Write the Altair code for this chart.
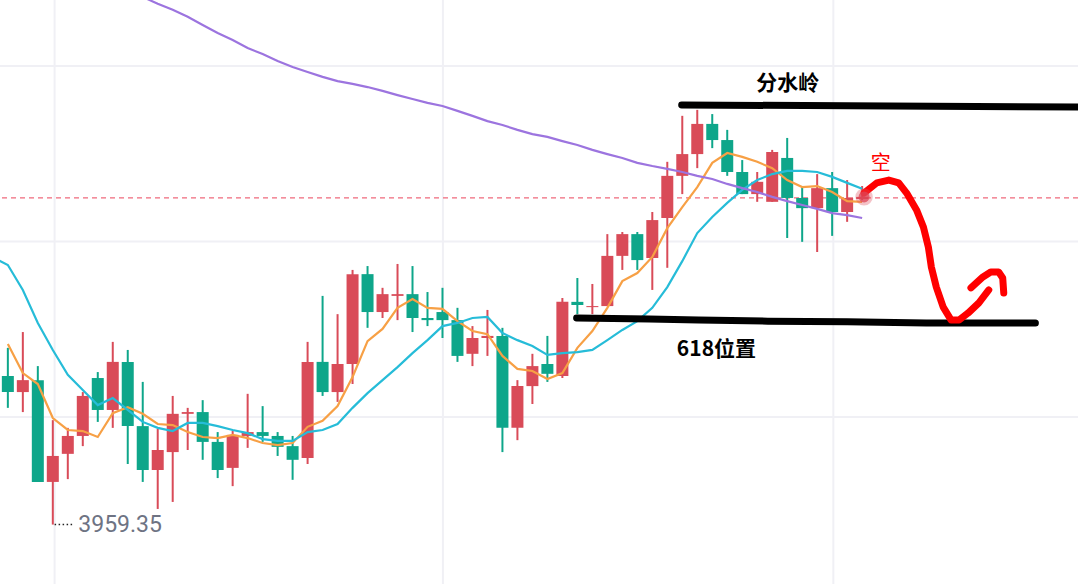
import altair as alt
import pandas as pd

# ---------------- data ----------------
open_ = [4001.7, 3997.1, 4000.5, 3971.5, 3979.5, 3984.6, 4001.1, 3992.0, 4005.7, 3987.4,
         3974.9, 3980.0, 3990.9, 3991.4, 3982.9, 3975.5, 3984.6, 3985.7, 3984.6, 3981.7,
         3978.3, 4005.7, 3997.1, 4005.1, 4030.7, 4019.9, 4024.5, 4025.0, 4018.2, 4019.9,
         4017.6, 4008.0, 4012.5, 4013.1, 3986.9, 3998.8, 4005.1, 4001.7, 4022.8, 4021.3,
         4021.6, 4035.9, 4042.1, 4035.3, 4046.7, 4058.7, 4064.9, 4073.5, 4068.9, 4059.8,
         4053.5, 4051.3, 4063.8, 4052.4, 4049.5, 4055.2, 4048.4, 4052.1]
high = [4009.7, 4014.2, 4004.5, 3989.1, 3986.9, 3997.1, 4002.8, 4011.4, 4009.1, 4000.0,
        3986.6, 3996.0, 3992.6, 3994.8, 3985.7, 3986.0, 3996.6, 3993.1, 3985.7, 3984.6,
        4011.4, 4024.5, 4019.3, 4031.9, 4033.0, 4026.8, 4033.6, 4033.0, 4025.6, 4026.8,
        4021.1, 4015.9, 4020.5, 4015.4, 4000.5, 4008.0, 4013.1, 4023.9, 4029.6, 4027.9,
        4042.1, 4042.7, 4042.7, 4048.4, 4062.7, 4075.8, 4077.5, 4076.3, 4071.8, 4063.2,
        4059.8, 4066.1, 4069.5, 4055.8, 4059.2, 4059.8, 4057.5, 4055.8]
low = [3992.6, 3991.4, 3971.5, 3959.35, 3972.3, 3981.7, 3988.6, 3986.9, 3976.6, 3971.5,
       3963.8, 3965.8, 3980.6, 3977.8, 3972.6, 3970.3, 3981.2, 3982.9, 3978.9, 3972.1,
       3976.6, 3996.0, 3994.3, 3999.4, 4015.4, 4018.2, 4017.6, 4014.2, 4015.9, 4012.5,
       4005.7, 4004.5, 4007.4, 3980.0, 3983.4, 3993.7, 4000.0, 4001.1, 4019.3, 4019.3,
       4021.6, 4031.9, 4031.9, 4026.2, 4032.5, 4053.5, 4060.9, 4066.6, 4058.7, 4053.5,
       4051.3, 4051.3, 4041.0, 4039.9, 4037.0, 4041.6, 4045.6, 4051.8]
close = [3997.1, 4000.5, 3971.5, 3978.9, 3984.6, 3996.0, 3992.0, 4005.7, 3987.4, 3974.9,
         3980.6, 3990.9, 3991.4, 3982.9, 3974.9, 3984.9, 3985.7, 3984.6, 3981.5, 3977.8,
         4005.7, 3997.1, 4005.1, 4030.7, 4019.9, 4025.0, 4025.0, 4018.2, 4017.6, 4017.6,
         4007.4, 4012.5, 4013.1, 3986.9, 3998.8, 4004.5, 4002.3, 4022.8, 4021.9, 4021.6,
         4035.9, 4042.1, 4034.7, 4046.1, 4058.7, 4064.9, 4073.5, 4068.9, 4059.8, 4053.5,
         4057.0, 4065.5, 4052.4, 4049.5, 4055.2, 4048.4, 4052.4, 4052.7]

ma_fast = [4010.8, 4002.5, 3999.4, 3989.7, 3986.3, 3986.0, 3984.3, 3991.1, 3992.8, 3990.9,
           3988.0, 3987.7, 3985.7, 3984.3, 3984.0, 3984.9, 3984.0, 3982.6, 3982.0, 3982.6,
           3987.2, 3988.9, 3993.1, 4001.4, 4011.6, 4015.1, 4021.1, 4023.6, 4021.1, 4020.8,
           4017.3, 4014.5, 4013.6, 4007.4, 4003.7, 4003.1, 4000.8, 4002.5, 4009.7, 4014.5,
           4021.1, 4028.7, 4031.0, 4035.6, 4043.8, 4049.8, 4055.5, 4062.4, 4065.2, 4064.1,
           4062.7, 4060.9, 4057.5, 4055.5, 4055.8, 4054.1, 4051.5, 4051.3]
ma_mid_start = -1
ma_mid = [4035.5, 4033.3, 4026.2, 4016.8, 4009.1, 4002.0, 3997.7, 3993.4, 3995.4, 3992.0, 3988.6,
          3986.9, 3986.0, 3988.3, 3988.3, 3987.4, 3986.3, 3985.4, 3983.7, 3983.2, 3983.2,
          3985.7, 3986.3, 3988.0, 3992.6, 3996.8, 4000.5, 4004.2, 4008.2, 4011.9, 4015.9,
          4016.8, 4018.2, 4018.5, 4013.9, 4011.9, 4010.2, 4007.7, 4008.2, 4008.5, 4009.1,
          4011.9, 4014.8, 4017.3, 4021.1, 4027.0, 4034.4, 4042.4, 4047.0, 4051.0, 4054.7,
          4057.5, 4059.2, 4060.1, 4060.1, 4059.8, 4058.4, 4056.7, 4055.0]
ma_slow_start = 8
ma_slow = [4111.6, 4109.7, 4107.7, 4106.0, 4104.0, 4101.7, 4099.4, 4097.4, 4095.1, 4093.4,
           4091.4, 4089.7, 4088.3, 4086.9, 4085.7, 4084.9, 4084.0, 4082.9, 4081.7, 4080.6,
           4079.5, 4078.6, 4077.2, 4075.8, 4074.3, 4073.2, 4071.8, 4070.6, 4069.8, 4068.6,
           4067.5, 4066.1, 4064.9, 4063.8, 4062.4, 4061.5, 4060.7, 4059.8, 4058.7, 4057.8,
           4056.4, 4055.2, 4054.1, 4052.7, 4051.5, 4050.4, 4049.3, 4048.1, 4047.5, 4046.7]

last_price = 4052.4
low_label = "3959.35"
low_value = 3959.35

grid_x = [3.12, 29.03, 55.08]
grid_y = [3990, 4040, 4090]

# hand-drawn annotations (bar index, price)
black_line_a_x = [44.96, 71.54]
black_line_a_y = [4078.9, 4078.3]
black_line_b_x = [37.95, 42.78, 46.09, 50.71, 56.0, 61.29, 68.56]
black_line_b_y = [4018.2, 4017.9, 4017.6, 4017.3, 4017.1, 4016.8, 4016.8]
red_curve_x = [57.13, 57.98, 58.78, 59.44, 59.97, 60.63, 61.09, 61.42, 61.62, 61.95,
               62.41, 62.94, 63.47, 64.07, 64.79, 65.45]
red_curve_y = [4053.8, 4056.7, 4057.5, 4056.7, 4053.8, 4049.0, 4044.1, 4038.4, 4032.7, 4027.0,
               4021.3, 4017.6, 4017.6, 4019.6, 4022.5, 4026.2]
red_hook_x = [64.26, 65.06, 65.58, 66.11, 66.38, 66.45]
red_hook_y = [4026.8, 4029.9, 4031.3, 4031.3, 4029.6, 4025.3]

labels_text = ["分水岭", "618位置"]
labels_x = [52.04, 47.28]
labels_y = [4084.9, 4009.1]
short_text = "空"
short_x, short_y = 58.25, 4062.1
dot_x, dot_y = 57.13, 4052.7
leader_x = [3.12, 4.44]
label_x = 4.70

# ---------------- frames ----------------
n = len(open_)
candles = pd.DataFrame({
    "idx": list(range(n)), "open": open_, "high": high, "low": low, "close": close,
})
candles["dir"] = ["up" if c >= o else "down" for o, c in zip(open_, close)]

ma = pd.concat([
    pd.DataFrame({"idx": list(range(len(ma_fast))), "value": ma_fast, "s": "fast"}),
    pd.DataFrame({"idx": [ma_mid_start + i for i in range(len(ma_mid))], "value": ma_mid, "s": "mid"}),
    pd.DataFrame({"idx": [ma_slow_start + i for i in range(len(ma_slow))], "value": ma_slow, "s": "slow"}),
])

black = pd.concat([
    pd.DataFrame({"x": black_line_a_x, "y": black_line_a_y, "k": "a", "o": range(len(black_line_a_x))}),
    pd.DataFrame({"x": black_line_b_x, "y": black_line_b_y, "k": "b", "o": range(len(black_line_b_x))}),
])
red = pd.concat([
    pd.DataFrame({"x": red_curve_x, "y": red_curve_y, "k": "c", "o": range(len(red_curve_x))}),
    pd.DataFrame({"x": red_hook_x, "y": red_hook_y, "k": "h", "o": range(len(red_hook_x))}),
])

xs = alt.Scale(domain=[-0.19, 71.07], nice=False, zero=False)
ys = alt.Scale(domain=[3942.42, 4108.8], nice=False, zero=False)

RED = "#D94B58"
GREEN = "#0EA68A"

gv = alt.Chart(pd.DataFrame({"g": grid_x})).mark_rule(color="#F0F0F5", strokeWidth=2).encode(
    x=alt.X("g:Q", scale=xs, axis=None))
gh = alt.Chart(pd.DataFrame({"g": grid_y})).mark_rule(color="#F0F0F5", strokeWidth=2).encode(
    y=alt.Y("g:Q", scale=ys, axis=None))
dashed = alt.Chart(pd.DataFrame({"p": [last_price]})).mark_rule(
    color="#F06A7C", strokeWidth=1.3, strokeDash=[5, 4]).encode(y=alt.Y("p:Q", scale=ys, axis=None))

cscale = alt.Scale(domain=["up", "down"], range=[RED, GREEN])
wicks = alt.Chart(candles).mark_rule(strokeWidth=2).encode(
    x=alt.X("idx:Q", scale=xs, axis=None),
    y=alt.Y("low:Q", scale=ys, axis=None), y2="high:Q",
    color=alt.Color("dir:N", scale=cscale, legend=None))
bodies = alt.Chart(candles).mark_bar(size=12, minBandSize=2).encode(
    x=alt.X("idx:Q", scale=xs, axis=None),
    y=alt.Y("open:Q", scale=ys, axis=None), y2="close:Q",
    color=alt.Color("dir:N", scale=cscale, legend=None))

lines = alt.Chart(ma).mark_line(strokeWidth=2.2, clip=True).encode(
    x=alt.X("idx:Q", scale=xs, axis=None),
    y=alt.Y("value:Q", scale=ys, axis=None),
    color=alt.Color("s:N", scale=alt.Scale(domain=["fast", "mid", "slow"],
                                           range=["#F7A045", "#26BCD8", "#9C74DF"]), legend=None),
    detail="s:N")

blk = alt.Chart(black).mark_line(strokeWidth=7, strokeCap="round", color="black", clip=True).encode(
    x=alt.X("x:Q", scale=xs, axis=None), y=alt.Y("y:Q", scale=ys, axis=None),
    detail="k:N", order="o:Q")
redl = alt.Chart(red).mark_line(strokeWidth=7, strokeCap="round", strokeJoin="round",
                                color="#FF0000", clip=True).encode(
    x=alt.X("x:Q", scale=xs, axis=None), y=alt.Y("y:Q", scale=ys, axis=None),
    detail="k:N", order="o:Q")

dotdf = pd.DataFrame({"x": [dot_x], "y": [dot_y]})
dot1 = alt.Chart(dotdf).mark_circle(size=300, color="#E0505F", opacity=0.35).encode(
    x=alt.X("x:Q", scale=xs, axis=None), y=alt.Y("y:Q", scale=ys, axis=None))
dot2 = alt.Chart(dotdf).mark_circle(size=120, color="#DD4455", opacity=0.75).encode(
    x=alt.X("x:Q", scale=xs, axis=None), y=alt.Y("y:Q", scale=ys, axis=None))

txt = alt.Chart(pd.DataFrame({"t": labels_text, "x": labels_x, "y": labels_y})).mark_text(
    font="Noto Sans CJK SC", fontSize=21, fontWeight="bold", color="black",
    align="center", baseline="middle").encode(
    x=alt.X("x:Q", scale=xs, axis=None), y=alt.Y("y:Q", scale=ys, axis=None), text="t:N")
stxt = alt.Chart(pd.DataFrame({"t": [short_text], "x": [short_x], "y": [short_y]})).mark_text(
    font="Noto Sans CJK SC", fontSize=20, color="#FF0000", align="center", baseline="middle").encode(
    x=alt.X("x:Q", scale=xs, axis=None), y=alt.Y("y:Q", scale=ys, axis=None), text="t:N")

leader = alt.Chart(pd.DataFrame({"x": [leader_x[0]], "x2": [leader_x[1]], "y": [low_value]})).mark_rule(
    color="#222222", strokeWidth=1.5, strokeDash=[1.5, 2.5]).encode(
    x=alt.X("x:Q", scale=xs, axis=None), x2="x2:Q", y=alt.Y("y:Q", scale=ys, axis=None))
ltxt = alt.Chart(pd.DataFrame({"t": [low_label], "x": [label_x], "y": [low_value]})).mark_text(
    font="Roboto", fontSize=23, color="#6E7383", align="left", baseline="middle").encode(
    x=alt.X("x:Q", scale=xs, axis=None), y=alt.Y("y:Q", scale=ys, axis=None), text="t:N")

chart = alt.layer(gv, gh, dashed, wicks, bodies, lines, blk, redl, dot1, dot2, txt, stxt, leader, ltxt
                  ).resolve_scale(color="independent").properties(
    width=1078, height=584, padding=0, autosize=alt.AutoSizeParams(type="none"),
    background="white").configure_view(stroke=None)

chart.save("out.html", embed_options={"renderer": "svg", "actions": False})
